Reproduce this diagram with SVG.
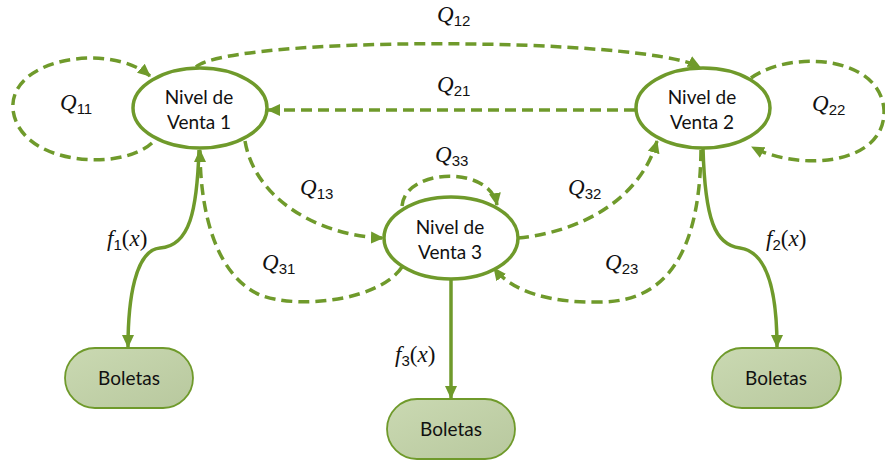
<svg xmlns="http://www.w3.org/2000/svg" width="885" height="464" viewBox="0 0 885 464">
<defs>
<linearGradient id="bg" x1="0" y1="0" x2="1" y2="1">
<stop offset="0" stop-color="#cad9b2"/>
<stop offset="1" stop-color="#b8c89e"/>
</linearGradient>
<marker id="ah" markerUnits="userSpaceOnUse" markerWidth="14" markerHeight="14" viewBox="0 0 14 14" refX="12" refY="7" orient="auto">
<path d="M0,1 L13,7 L0,13 Z" fill="#6f9a2b"/>
</marker>
</defs>
<style>
.node{fill:#fff;stroke:#6f9a2b;stroke-width:3.5}
.box{fill:url(#bg);stroke:#6f9a2b;stroke-width:1.8}
.lbl{font-family:Lato,"Open Sans",sans-serif;font-size:19px;fill:#111;text-anchor:middle}
.dash{fill:none;stroke:#6f9a2b;stroke-width:3.5;stroke-dasharray:11 6}
.solid{fill:none;stroke:#6f9a2b;stroke-width:3.5}
.m{font-family:"Liberation Serif",serif;font-size:23px;fill:#111}
.m tspan.i{font-style:italic}
.m tspan.s{font-size:15px;font-family:"Liberation Sans",sans-serif}
</style>
<rect width="885" height="464" fill="#fff"/>
<g id="connectors">
<path class="dash" d="M152,143 C120,172 20,165 13,110 C8,58 110,42 150,76" marker-end="url(#ah)"/>
<path class="dash" d="M751,78 C790,50 880,55 884,110 C886,165 800,172 752,147" marker-end="url(#ah)"/>
<path class="dash" d="M196,67 C230,36 640,36 700,67" marker-end="url(#ah)"/>
<path class="dash" d="M635,110 L268,110" marker-end="url(#ah)"/>
<path class="dash" d="M245,141 C255,200 320,236 383,238" marker-end="url(#ah)"/>
<path class="dash" d="M402,267 C380,300 300,310 260,295 C215,275 200,210 200,150" marker-end="url(#ah)"/>
<path class="solid" d="M199,150 C197,210 190,246 160,248 C135,250 128,300 128,347" marker-end="url(#ah)"/>
<path class="solid" d="M703,148 C705,220 715,245 740,248 C770,252 777,300 777,347" marker-end="url(#ah)"/>
<path class="dash" d="M701,150 C700,230 680,302 600,302 C550,303 512,292 494,268" marker-end="url(#ah)"/>
<path class="dash" d="M518,238 C580,232 640,200 657,141" marker-end="url(#ah)"/>
<path class="dash" d="M402,206 C405,168 490,165 497,205" marker-end="url(#ah)"/>
<path class="solid" d="M451,280 L451,398" marker-end="url(#ah)"/>
</g>
<g id="n1"><ellipse class="node" cx="200" cy="108" rx="67" ry="40"/><text class="lbl" x="199" y="104">Nivel de</text><text class="lbl" x="199" y="129">Venta 1</text></g>
<g id="n2"><ellipse class="node" cx="703" cy="108" rx="67" ry="40"/><text class="lbl" x="702" y="104">Nivel de</text><text class="lbl" x="702" y="129">Venta 2</text></g>
<g id="n3"><ellipse class="node" cx="451" cy="238" rx="67" ry="41"/><text class="lbl" x="450" y="234">Nivel de</text><text class="lbl" x="450" y="259">Venta 3</text></g>
<g id="b1"><rect class="box" x="65" y="348" width="128" height="60" rx="30"/><text class="lbl" x="129" y="385">Boletas</text></g>
<g id="b2"><rect class="box" x="712" y="348" width="129" height="60" rx="30"/><text class="lbl" x="776" y="385">Boletas</text></g>
<g id="b3"><rect class="box" x="387" y="399" width="128" height="60" rx="30"/><text class="lbl" x="451" y="436">Boletas</text></g>
<g id="labels">
<text class="m" x="437" y="22"><tspan class="i">Q</tspan><tspan class="s" dy="4">12</tspan></text>
<text class="m" x="60" y="110"><tspan class="i">Q</tspan><tspan class="s" dy="4">11</tspan></text>
<text class="m" x="437" y="92"><tspan class="i">Q</tspan><tspan class="s" dy="4">21</tspan></text>
<text class="m" x="812" y="111"><tspan class="i">Q</tspan><tspan class="s" dy="4">22</tspan></text>
<text class="m" x="435" y="162"><tspan class="i">Q</tspan><tspan class="s" dy="4">33</tspan></text>
<text class="m" x="300" y="195"><tspan class="i">Q</tspan><tspan class="s" dy="4">13</tspan></text>
<text class="m" x="568" y="195"><tspan class="i">Q</tspan><tspan class="s" dy="4">32</tspan></text>
<text class="m" x="262" y="270"><tspan class="i">Q</tspan><tspan class="s" dy="4">31</tspan></text>
<text class="m" x="605" y="270"><tspan class="i">Q</tspan><tspan class="s" dy="4">23</tspan></text>
<text class="m" x="107" y="246"><tspan class="i">f</tspan><tspan class="s" dy="4">1</tspan><tspan dy="-4">(</tspan><tspan class="i">x</tspan>)</text>
<text class="m" x="766" y="246"><tspan class="i">f</tspan><tspan class="s" dy="4">2</tspan><tspan dy="-4">(</tspan><tspan class="i">x</tspan>)</text>
<text class="m" x="395" y="362"><tspan class="i">f</tspan><tspan class="s" dy="4">3</tspan><tspan dy="-4">(</tspan><tspan class="i">x</tspan>)</text>
</g>
</svg>
